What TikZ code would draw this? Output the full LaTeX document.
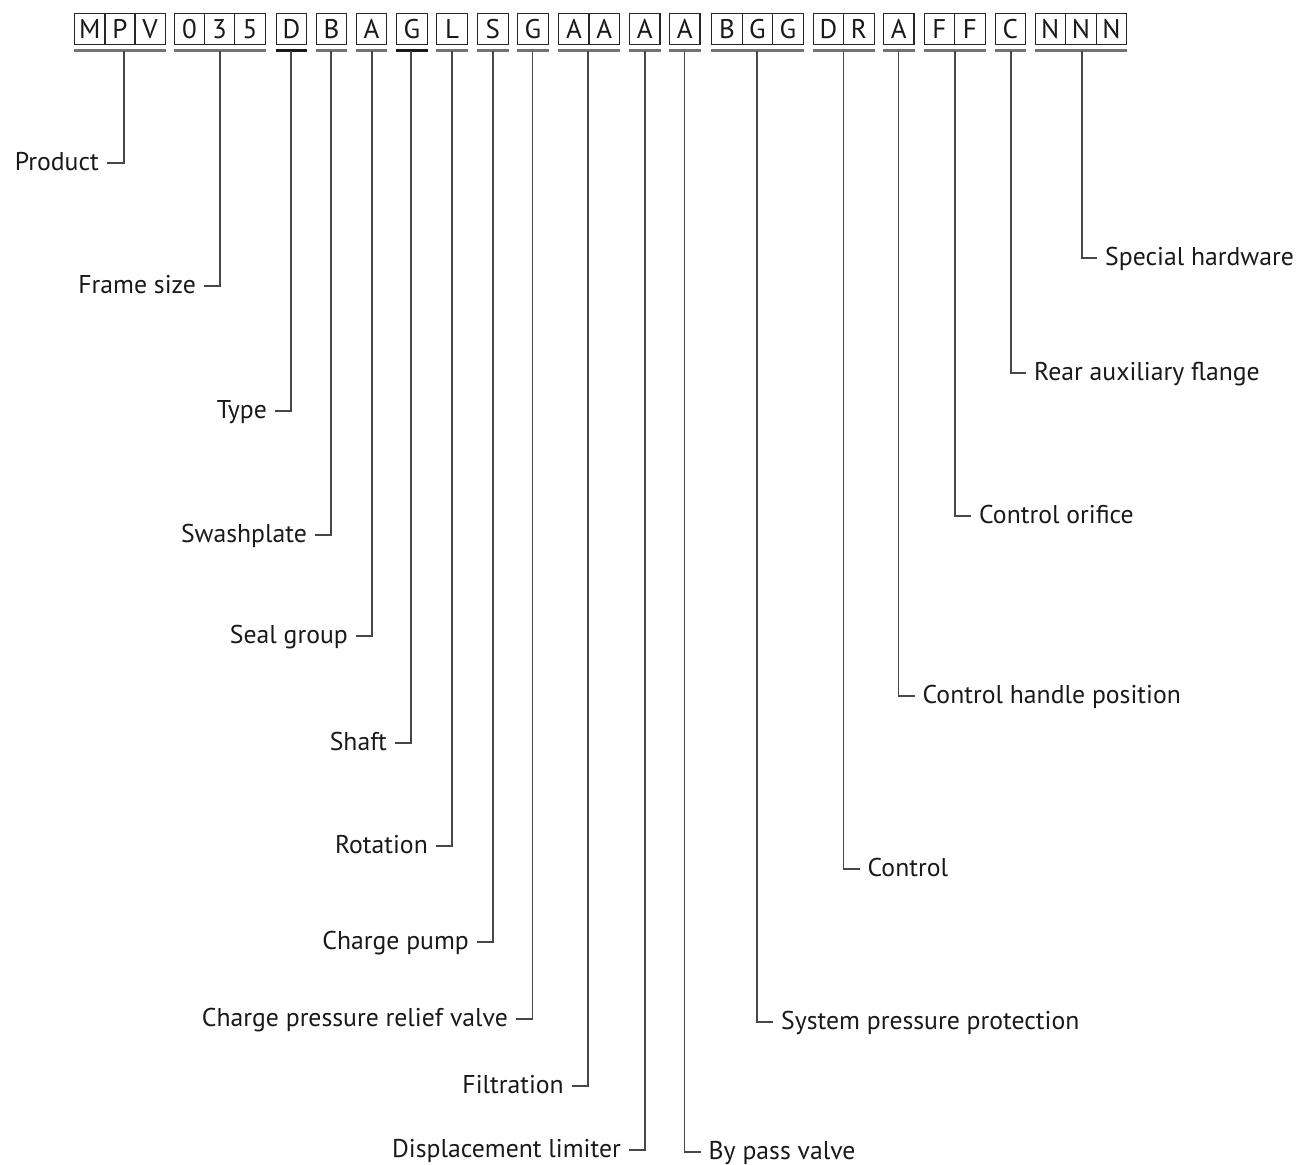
\documentclass[tikz,border=0pt]{standalone}
\usepackage{fontspec}
\setmainfont{PT Sans}
\begin{document}
\begin{tikzpicture}[x=1pt,y=-1pt,
 cell/.style={draw=black!85, line width=1.1pt, minimum width=30.5pt, minimum height=31pt, inner sep=0pt, font=\fontsize{27}{27}\selectfont, text=black!90},
 uline/.style={draw=black!55, line width=2.5pt},
 uldark/.style={draw=black!90, line width=2.5pt},
 conn/.style={draw=black!72, line width=1.3pt},
 lbl/.style={inner sep=0pt, text height=15.5pt, text depth=0pt, font=\fontsize{25.7}{26}\selectfont, text=black!90}]
\useasboundingbox (0,0) rectangle (1299,1165);
% cells
\node[cell] (c1) at (89.8,28.8) {M};
\node[cell] (c2) at (119.9,28.8) {P};
\node[cell] (c3) at (150.0,28.8) {V};
\node[cell] (c4) at (189.4,28.8) {0};
\node[cell] (c5) at (219.6,28.8) {3};
\node[cell] (c6) at (249.9,28.8) {5};
\node[cell] (c7) at (291.4,28.8) {D};
\node[cell] (c8) at (331.4,28.8) {B};
\node[cell] (c9) at (371.4,28.8) {A};
\node[cell] (c10) at (412.0,28.8) {G};
\node[cell] (c11) at (452.0,28.8) {L};
\node[cell] (c12) at (492.8,28.8) {S};
\node[cell] (c13) at (532.8,28.8) {G};
\node[cell] (c14) at (573.9,28.8) {A};
\node[cell] (c15) at (604.2,28.8) {A};
\node[cell] (c16) at (644.7,28.8) {A};
\node[cell] (c17) at (684.7,28.8) {A};
\node[cell] (c18) at (727.0,28.8) {B};
\node[cell] (c19) at (757.5,28.8) {G};
\node[cell] (c20) at (788.0,28.8) {G};
\node[cell] (c21) at (828.5,28.8) {D};
\node[cell] (c22) at (858.8,28.8) {R};
\node[cell] (c23) at (898.7,28.8) {A};
\node[cell] (c24) at (939.3,28.8) {F};
\node[cell] (c25) at (969.8,28.8) {F};
\node[cell] (c26) at (1010.4,28.8) {C};
\node[cell] (c27) at (1050.3,28.8) {N};
\node[cell] (c28) at (1080.9,28.8) {N};
\node[cell] (c29) at (1111.4,28.8) {N};
% underlines
\foreach \a/\b/\s in {c1/c3/uline,c4/c6/uline,c7/c7/uldark,c8/c8/uline,c9/c9/uline,c10/c10/uldark,c11/c11/uline,c12/c12/uline,c13/c13/uline,c14/c15/uline,c16/c16/uline,c17/c17/uline,c18/c20/uline,c21/c22/uline,c23/c23/uline,c24/c25/uline,c26/c26/uline,c27/c29/uline}
  \draw[\s] ([yshift=-5.7pt]\a.south west) -- ([yshift=-5.7pt]\b.south east);
% drop points
\coordinate (d1) at (124,51);
\coordinate (d2) at (220,51);
\coordinate (d3) at (291,51);
\coordinate (d4) at (331,51);
\coordinate (d5) at (372,51);
\coordinate (d6) at (411,51);
\coordinate (d7) at (452,51);
\coordinate (d8) at (493,51);
\coordinate (d9) at (532.7,51);
\coordinate (d10) at (588,51);
\coordinate (d11) at (645,51);
\coordinate (d12) at (684.5,51);
\coordinate (d13) at (757,51);
\coordinate (d14) at (843.5,51);
\coordinate (d15) at (898.5,51);
\coordinate (d16) at (955,51);
\coordinate (d17) at (1011,51);
\coordinate (d18) at (1082,51);
% left labels
\node[lbl,anchor=east] (l1) at (99,163) {Product};
\node[lbl,anchor=east] (l2) at (196,286) {Frame size};
\node[lbl,anchor=east] (l3) at (267,411) {Type};
\node[lbl,anchor=east] (l4) at (307,535) {Swashplate};
\node[lbl,anchor=east] (l5) at (348,636) {Seal group};
\node[lbl,anchor=east] (l6) at (387,743) {Shaft};
\node[lbl,anchor=east] (l7) at (428,846) {Rotation};
\node[lbl,anchor=east] (l8) at (469,942) {Charge pump};
\node[lbl,anchor=east] (l9) at (508,1019) {Charge pressure relief valve};
\node[lbl,anchor=east] (l10) at (564,1086) {Filtration};
\node[lbl,anchor=east] (l11) at (621,1150) {Displacement limiter};
% right labels
\node[lbl,anchor=west] (l12) at (708.5,1152) {By pass valve};
\node[lbl,anchor=west] (l13) at (781,1022) {System pressure protection};
\node[lbl,anchor=west] (l14) at (867.5,869) {Control};
\node[lbl,anchor=west] (l15) at (922.5,696) {Control handle position};
\node[lbl,anchor=west] (l16) at (979,516) {Control orifice};
\node[lbl,anchor=west] (l17) at (1034,373) {Rear auxiliary flange};
\node[lbl,anchor=west] (l18) at (1105,258) {Special hardware};
% connectors
\foreach \i in {1,...,11}
  \draw[conn] (d\i) |- ([xshift=8pt]l\i.east);
\foreach \i in {12,...,18}
  \draw[conn] (d\i) |- ([xshift=-8pt]l\i.west);
\end{tikzpicture}
\end{document}
